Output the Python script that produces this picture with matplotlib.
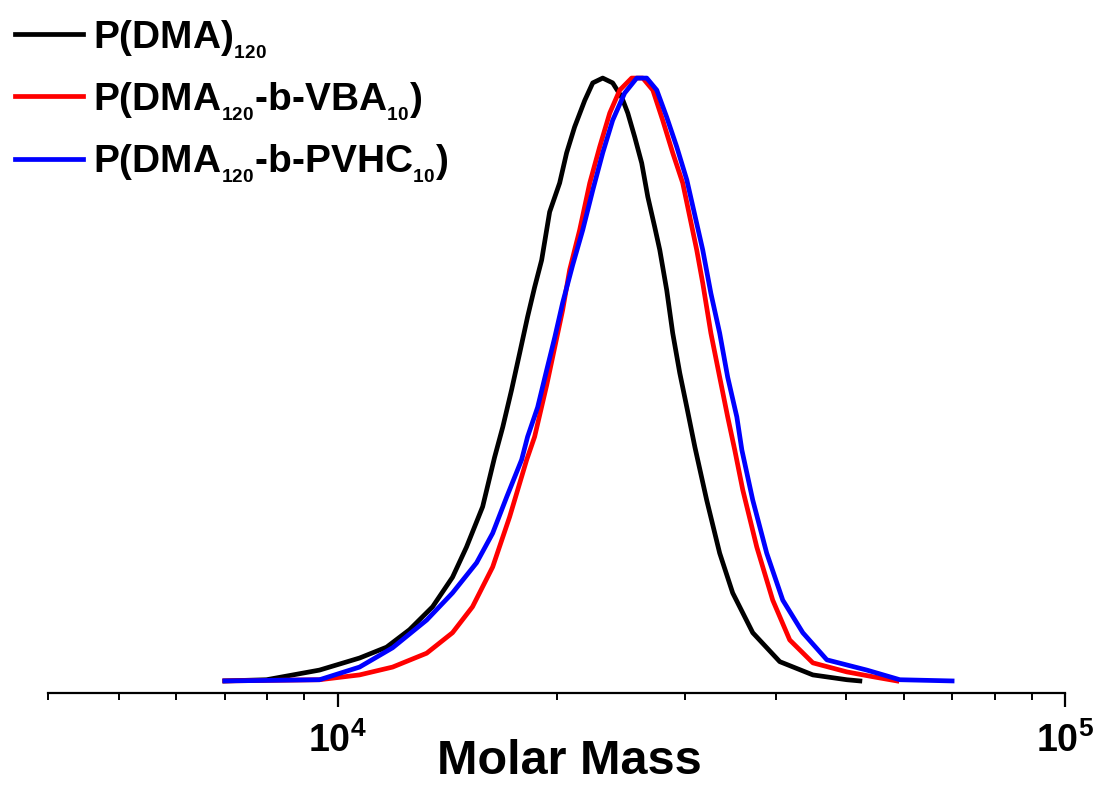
import numpy as np
import matplotlib
matplotlib.use('Agg')
import matplotlib.pyplot as plt
from matplotlib.ticker import LogLocator, NullFormatter

plt.rcParams['font.family'] = ['Liberation Sans', 'DejaVu Sans']
plt.rcParams['font.weight'] = 'bold'
plt.rcParams['mathtext.fontset'] = 'custom'
plt.rcParams['mathtext.rm'] = 'Liberation Sans:bold'
plt.rcParams['mathtext.bf'] = 'Liberation Sans:bold'
plt.rcParams['mathtext.it'] = 'Liberation Sans:bold'
plt.rcParams['mathtext.default'] = 'bf'

# Curvas de distribuição de massa molar (intensidade normalizada)
m_dma = [7000, 7987, 9445, 10722, 11679, 12560, 13510, 14390, 15040, 15830,
         16440, 16870, 17350, 17800, 18250, 18660, 19080, 19570, 20200, 20650,
         21180, 21870, 22430, 23150, 23890, 24590, 25060, 25620, 26190, 26700,
         27290, 27730, 28350, 28890, 29540, 30210, 30990, 32170, 33520, 34930,
         37220, 40540, 45020, 50130, 52240]
i_dma = [0.0, 0.002, 0.018, 0.038, 0.056, 0.085, 0.123, 0.172, 0.222, 0.289,
         0.371, 0.421, 0.483, 0.544, 0.604, 0.653, 0.698, 0.778, 0.826, 0.876,
         0.919, 0.963, 0.992, 1.0, 0.992, 0.968, 0.942, 0.902, 0.859, 0.803,
         0.753, 0.715, 0.648, 0.577, 0.511, 0.454, 0.388, 0.300, 0.212, 0.146,
         0.080, 0.032, 0.010, 0.002, 0.0]

m_vba = [7000, 9445, 10722, 11904, 13260, 14390, 15330, 16340, 17240, 18200,
         18660, 19390, 20390, 20850, 21520, 22220, 22930, 23670, 24430, 25370,
         26280, 27130, 27990, 28890, 29820, 30300, 31170, 31770, 32600, 33520,
         34380, 35160, 36060, 37700, 39650, 41840, 45020, 50130, 54440, 58740]
i_vba = [0.0, 0.002, 0.010, 0.023, 0.046, 0.080, 0.123, 0.189, 0.272, 0.367,
         0.405, 0.491, 0.615, 0.682, 0.748, 0.826, 0.886, 0.942, 0.980, 1.0,
         1.0, 0.980, 0.930, 0.876, 0.826, 0.786, 0.715, 0.660, 0.577, 0.504,
         0.438, 0.383, 0.317, 0.222, 0.134, 0.068, 0.030, 0.015, 0.007, 0.0]

m_pvhc = [7000, 9445, 10722, 11904, 13260, 14390, 15530, 16340, 17080, 17910,
          18250, 18840, 19390, 19890, 20390, 21050, 21730, 22430, 23150, 23890,
          24810, 25780, 26610, 27470, 28350, 29260, 30210, 31770, 32600, 33520,
          34380, 35390, 35960, 37220, 38900, 40930, 43610, 47060, 53410, 59290,
          69950]
i_pvhc = [0.0, 0.002, 0.023, 0.055, 0.101, 0.146, 0.196, 0.245, 0.305, 0.367,
          0.405, 0.454, 0.516, 0.570, 0.627, 0.690, 0.748, 0.814, 0.876, 0.930,
          0.975, 1.0, 1.0, 0.980, 0.935, 0.886, 0.831, 0.715, 0.643, 0.577,
          0.504, 0.438, 0.383, 0.300, 0.212, 0.134, 0.080, 0.035, 0.018, 0.002,
          0.0]

labels = ['P(DMA)$_{_{120}}$',
          'P(DMA$_{_{120}}$-b-VBA$_{_{10}}$)',
          'P(DMA$_{_{120}}$-b-PVHC$_{_{10}}$)']
cores = ['#000000', '#ff0000', '#0000ff']

fig = plt.figure(figsize=(10.94, 7.85), dpi=100)
ax = fig.add_axes([0.0439, 0.1172, 0.9296, 0.7987])

ax.plot(m_dma, i_dma, color=cores[0], lw=3.4, label=labels[0])
ax.plot(m_vba, i_vba, color=cores[1], lw=3.4, label=labels[1])
ax.plot(m_pvhc, i_pvhc, color=cores[2], lw=3.4, label=labels[2])

ax.set_xscale('log')
ax.set_xlim(4000, 100000)
ax.set_ylim(-0.02, 1.02)

# Só o eixo de baixo
for s in ['left', 'right', 'top']:
    ax.spines[s].set_visible(False)
ax.spines['bottom'].set_linewidth(1.6)
ax.set_yticks([])

ax.set_xticks([1e4, 1e5])
ax.set_xticklabels([r'$\mathbf{10^{4}}$', r'$\mathbf{10^{5}}$'])
ax.xaxis.set_minor_locator(LogLocator(base=10, subs=np.arange(2, 10)))
ax.xaxis.set_minor_formatter(NullFormatter())
ax.tick_params(axis='x', which='major', length=10, width=1.6, labelsize=27, pad=11)
ax.tick_params(axis='x', which='minor', length=5, width=1.4)

ax.set_xlabel('Molar Mass', fontsize=35, fontweight='bold')
ax.xaxis.set_label_coords(0.513, -0.074)

ax.legend(loc='upper left', bbox_to_anchor=(-0.004, 1.002), bbox_transform=fig.transFigure,
          frameon=False, fontsize=28, handlelength=1.75, handletextpad=0.25,
          labelspacing=0.5, borderaxespad=0.3, borderpad=0.2)

fig.savefig('out.png', dpi=100)
